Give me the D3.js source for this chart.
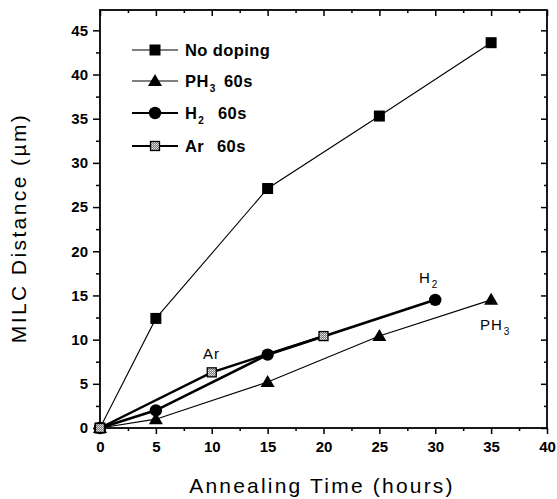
<!DOCTYPE html>
<html><head><meta charset="utf-8">
<script src="https://cdn.jsdelivr.net/npm/d3@7"></script>
<style>
body{margin:0;background:#fff;}
svg{display:block;font-family:Arial,"Liberation Sans",Helvetica,sans-serif;}
</style></head>
<body>
<svg id="chart" width="557" height="499"></svg>
<script>
// ---- data ----
const noDopingX = [0, 5, 15, 25, 35];
const noDopingY = [0, 12.4, 27.1, 35.3, 43.6];
const ph3X = [0, 5, 15, 25, 35];
const ph3Y = [0, 1.0, 5.2, 10.4, 14.5];
const h2X = [0, 5, 15, 30];
const h2Y = [0, 2.0, 8.3, 14.5];
const arX = [0, 10, 20];
const arY = [0, 6.3, 10.4];
const xTicks = [0, 5, 10, 15, 20, 25, 30, 35, 40];
const yTicks = [0, 5, 10, 15, 20, 25, 30, 35, 40, 45];
const legendLabels = ["No doping", "PH|3|60s", "H|2|60s", "Ar|60s"];

const svg = d3.select("#chart");
const x = d3.scaleLinear().domain([0, 40]).range([100, 547]);
const y = d3.scaleLinear().domain([0, 47.3]).range([428, 10]);

// pattern for Ar marker
const defs = svg.append("defs");
const pat = defs.append("pattern").attr("id", "chk").attr("patternUnits", "userSpaceOnUse")
  .attr("width", 2).attr("height", 2);
pat.append("rect").attr("width", 2).attr("height", 2).attr("fill", "#777");
pat.append("rect").attr("width", 1).attr("height", 1).attr("fill", "#eee");
pat.append("rect").attr("x", 1).attr("y", 1).attr("width", 1).attr("height", 1).attr("fill", "#ccc");

const minorX = d3.range(2.5, 40, 5);
const minorY = d3.range(2.5, 47.3, 5);

function styleAxis(g) {
  g.selectAll(".domain").remove();
  g.selectAll("line").attr("stroke", "#000").attr("stroke-width", 1.5);
  g.selectAll("text").attr("font-size", 15).attr("font-weight", "bold").attr("fill", "#000")
    .attr("font-family", "Arial, 'Liberation Sans', sans-serif");
}
// bottom
svg.append("g").attr("transform", "translate(0,428)")
  .call(d3.axisBottom(x).tickValues(xTicks).tickSize(6).tickPadding(7).tickFormat(d3.format("d")))
  .call(styleAxis);
svg.append("g").attr("transform", "translate(0,428)")
  .call(d3.axisBottom(x).tickValues(minorX).tickSize(3).tickFormat(""))
  .call(styleAxis);
// top (inward)
svg.append("g").attr("transform", "translate(0,10)")
  .call(d3.axisBottom(x).tickValues(xTicks).tickSize(6).tickFormat(""))
  .call(styleAxis);
svg.append("g").attr("transform", "translate(0,10)")
  .call(d3.axisBottom(x).tickValues(minorX).tickSize(3).tickFormat(""))
  .call(styleAxis);
// left
svg.append("g").attr("transform", "translate(100,0)")
  .call(d3.axisLeft(y).tickValues(yTicks).tickSize(7).tickPadding(5).tickFormat(d3.format("d")))
  .call(styleAxis);
svg.append("g").attr("transform", "translate(100,0)")
  .call(d3.axisLeft(y).tickValues(minorY).tickSize(4).tickFormat(""))
  .call(styleAxis);
// right (inward)
svg.append("g").attr("transform", "translate(547,0)")
  .call(d3.axisLeft(y).tickValues(yTicks).tickSize(6).tickFormat(""))
  .call(styleAxis);
svg.append("g").attr("transform", "translate(547,0)")
  .call(d3.axisLeft(y).tickValues(minorY).tickSize(3).tickFormat(""))
  .call(styleAxis);

// frame
svg.append("rect").attr("x", x(0)).attr("y", y(47.3)).attr("width", x(40) - x(0)).attr("height", y(0) - y(47.3))
  .attr("fill", "none").attr("stroke", "#000").attr("stroke-width", 1.8);

// series
const series = [
  {xs: noDopingX, ys: noDopingY, w: 1.1, m: "square"},
  {xs: ph3X, ys: ph3Y, w: 1.1, m: "triangle"},
  {xs: h2X, ys: h2Y, w: 2.6, m: "circle"},
  {xs: arX, ys: arY, w: 2.4, m: "ar"},
];
const line = d3.line().x(d => x(d[0])).y(d => y(d[1]));
series.forEach(s => {
  const pts = s.xs.map((v, i) => [v, s.ys[i]]);
  svg.append("path").datum(pts).attr("d", line).attr("fill", "none")
    .attr("stroke", "#000").attr("stroke-width", s.w);
});
function drawMarker(g, type, cx, cy) {
  if (type === "square") {
    g.append("rect").attr("x", cx - 5.5).attr("y", cy - 5.5).attr("width", 11).attr("height", 11).attr("fill", "#000");
  } else if (type === "triangle") {
    g.append("path").attr("d", `M${cx},${cy - 7}L${cx + 7},${cy + 5}L${cx - 7},${cy + 5}Z`).attr("fill", "#000");
  } else if (type === "circle") {
    g.append("circle").attr("cx", cx).attr("cy", cy).attr("r", 6.2).attr("fill", "#000");
  } else {
    g.append("rect").attr("x", cx - 4.5).attr("y", cy - 4.5).attr("width", 9).attr("height", 9)
      .attr("fill", "url(#chk)").attr("stroke", "#000").attr("stroke-width", 1.3);
  }
}
series.forEach(s => {
  const g = svg.append("g");
  s.xs.forEach((v, i) => drawMarker(g, s.m, x(v), y(s.ys[i])));
});

// legend
const legY = [50, 81, 113, 146];
series.forEach((s, i) => {
  const g = svg.append("g");
  g.append("line").attr("x1", 132).attr("x2", 178).attr("y1", legY[i]).attr("y2", legY[i])
    .attr("stroke", "#000").attr("stroke-width", Math.min(s.w, 2));
  drawMarker(g, s.m, 155, legY[i]);
  const parts = legendLabels[i].split("|");
  const t = g.append("text").attr("x", 185).attr("y", legY[i] + 6)
    .attr("font-size", 16.5).attr("font-weight", "bold").attr("fill", "#000").attr("letter-spacing", 0.4);
  if (parts.length === 1) {
    t.text(parts[0]);
  } else if (parts.length === 3) {
    t.append("tspan").text(parts[0]);
    t.append("tspan").attr("dx", 1).attr("dy", 5).attr("font-size", 10).text(parts[1]);
    t.append("tspan").attr("x", parts[0] === "PH" ? 224 : 218).attr("y", legY[i] + 6).text(parts[2]);
  } else {
    t.append("tspan").text(parts[0]);
    t.append("tspan").attr("x", 217).text(parts[1]);
  }
});

// annotations
function subLabel(txt, sub, lx, ly) {
  const t = svg.append("text").attr("x", lx).attr("y", ly).attr("font-size", 15).attr("fill", "#000")
    .attr("letter-spacing", 1);
  t.append("tspan").text(txt);
  if (sub) t.append("tspan").attr("dx", 1).attr("dy", 5).attr("font-size", 10).text(sub);
}
subLabel("Ar", null, 203, 359);
subLabel("H", "2", 419, 283);
subLabel("PH", "3", 480, 330);

// axis titles
svg.append("text").attr("x", 322).attr("y", 493).attr("text-anchor", "middle")
  .attr("font-size", 21).attr("letter-spacing", 2.2).attr("fill", "#000").text("Annealing Time (hours)");
svg.append("text").attr("transform", "translate(26,228) rotate(-90)").attr("text-anchor", "middle")
  .attr("font-size", 21).attr("letter-spacing", 2.4).attr("fill", "#000").text("MILC Distance (\u00b5m)");
</script>
</body></html>
